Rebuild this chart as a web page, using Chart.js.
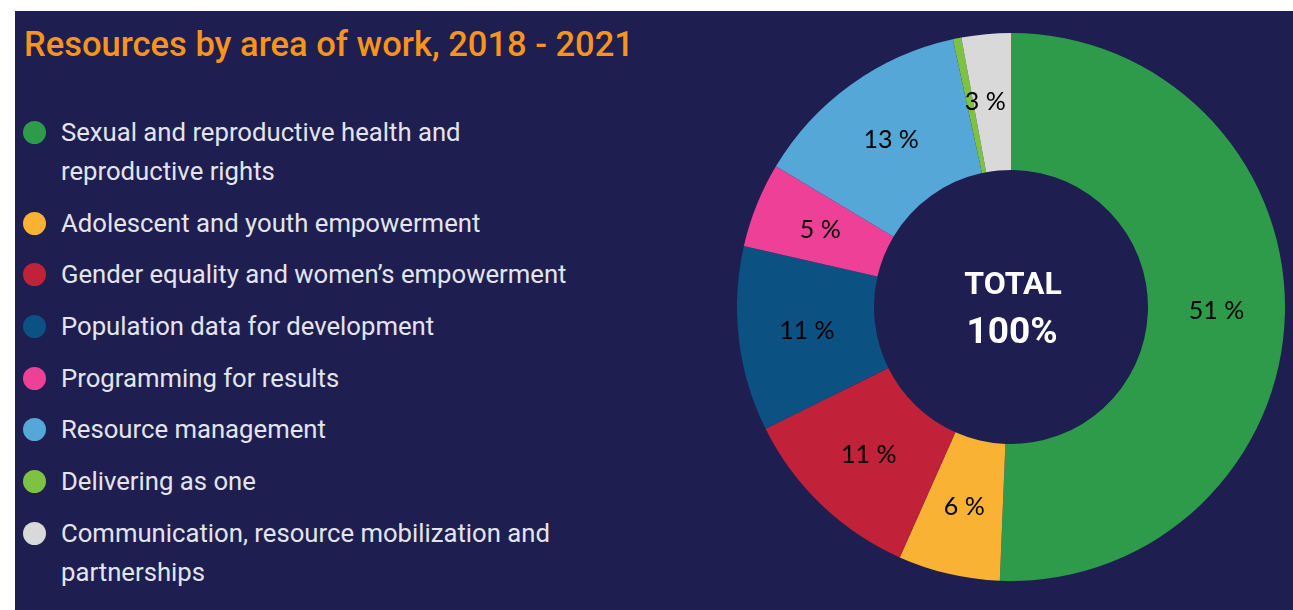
<!DOCTYPE html>
<html>
<head>
<meta charset="utf-8">
<script src="https://cdn.jsdelivr.net/npm/chart.js@4"></script>
<style>
    html, body { margin: 0; padding: 0; background: #fff; }
    body { width: 1293px; height: 610px; position: relative; overflow: hidden; font-family: Roboto, sans-serif; }
    #panel { position: absolute; left: 15px; top: 11px; width: 1278px; height: 599px; background: #1e1f50; }
    #title { position: absolute; left: 24px; top: 24px; margin: 0; font-size: 34.5px; font-weight: 500; color: #f7941d; white-space: nowrap; }
    #legend { position: absolute; left: 23px; top: 113px; margin: 0; padding: 0; list-style: none; width: 600px; }
    #legend li { position: relative; padding-left: 38px; margin-bottom: 12.7px; font-size: 25.7px; line-height: 39px; color: #e4e4ee; width: 532px; }
    #legend .dot { position: absolute; left: 0; top: 8px; width: 23px; height: 23px; border-radius: 50%; }
    #donut { position: absolute; left: 737px; top: 33px; }
</style>
</head>
<body>
<div id="panel"></div>
<h1 id="title">Resources by area of work, 2018 - 2021</h1>
<ul id="legend"></ul>
<canvas id="donut" width="548" height="548"></canvas>
<script>
const categories = [
    "Sexual and reproductive health and reproductive rights",
    "Adolescent and youth empowerment",
    "Gender equality and women’s empowerment",
    "Population data for development",
    "Programming for results",
    "Resource management",
    "Delivering as one",
    "Communication, resource mobilization and partnerships"
];
const shares = [50.6, 6.0, 11.0, 10.9, 5.0, 13.0, 0.5, 2.9];
const colors = ["#2e9b4b", "#f9b233", "#c1223a", "#0b5283", "#ee4096", "#54a7d6", "#7dc243", "#d9d9d9"];
const centerLines = ["TOTAL", "100%"];

document.getElementById("legend").innerHTML = categories.map((name, i) => `<li><span class="dot" style="background:${colors[i]}"></span>${name}</li>`).join("");

// percentage text inside each slice (tiny slices are left unlabelled)
const sliceLabels = {
    id: "sliceLabels",
    afterDatasetsDraw(chart) {
        const { ctx } = chart;
        const meta = chart.getDatasetMeta(0);
        ctx.save();
        ctx.font = "25px Lato, sans-serif";
        ctx.fillStyle = "#000";
        ctx.textAlign = "center";
        ctx.textBaseline = "middle";
        meta.data.forEach((arc, i) => {
            const value = shares[i];
            if (value < 1) return;
            const pos = arc.tooltipPosition();
            const nudge = i === shares.length - 1 ? -7 : 0;
            ctx.fillText(`${Math.round(value)} %`, pos.x + nudge, pos.y);
        });
        ctx.restore();
    }
};

const centerText = {
    id: "centerText",
    afterDraw(chart) {
        const { ctx } = chart;
        const arc = chart.getDatasetMeta(0).data[0];
        ctx.save();
        ctx.fillStyle = "#fff";
        ctx.textAlign = "center";
        ctx.textBaseline = "alphabetic";
        ctx.font = "bold 32px Roboto, sans-serif";
        ctx.fillText(centerLines[0], arc.x + 2, arc.y - 13);
        ctx.font = "bold 37px Roboto, sans-serif";
        ctx.fillText(centerLines[1], arc.x + 1, arc.y + 36);
        ctx.restore();
    }
};

new Chart(document.getElementById("donut"), {
    type: "doughnut",
    data: { labels: categories, datasets: [{ data: shares, backgroundColor: colors, borderWidth: 0 }] },
    options: {
        responsive: false,
        animation: false,
        cutout: "50%",
        layout: { padding: 0 },
        plugins: { legend: { display: false }, tooltip: { enabled: false } }
    },
    plugins: [sliceLabels, centerText]
});
</script>
</body>
</html>
